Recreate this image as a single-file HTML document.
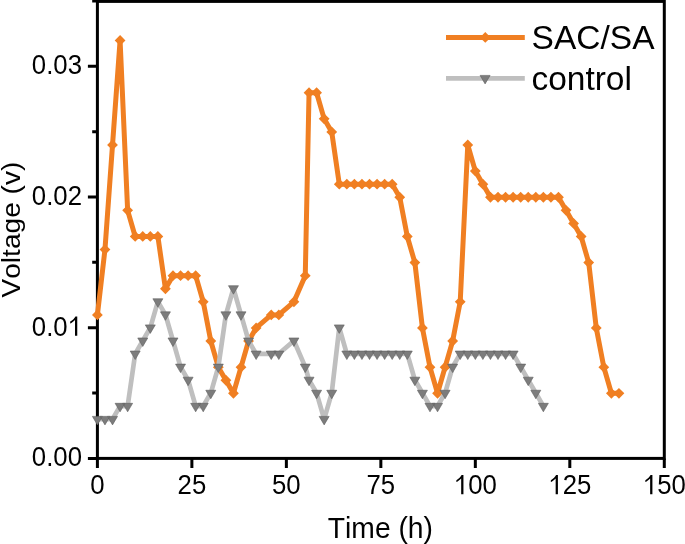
<!DOCTYPE html><html><head><meta charset="utf-8"><style>html,body{margin:0;padding:0;background:#fff;}svg{display:block;}text{font-family:"Liberation Sans",sans-serif;fill:#000;font-kerning:none;}</style></head><body>
<svg width="685" height="544" viewBox="0 0 685 544">
<rect width="685" height="544" fill="#fff"/>
<rect x="97.4" y="1.4" width="566.9" height="457" fill="none" stroke="#000" stroke-width="3"/>
<path d="M97.4 458.4V467.9M191.88 458.4V467.9M286.37 458.4V467.9M380.85 458.4V467.9M475.33 458.4V467.9M569.81 458.4V467.9M664.29 458.4V467.9M97.4 458.4H87.9M97.4 393.05H92.2M97.4 327.7H87.9M97.4 262.35H92.2M97.4 197H87.9M97.4 131.65H92.2M97.4 66.3H87.9M97.4 0.95H92.2" stroke="#000" stroke-width="3" fill="none"/>
<polyline points="97.4,314.88 104.96,249.53 112.52,144.97 120.08,40.41 127.63,210.32 135.19,236.46 142.75,236.46 150.31,236.46 157.87,236.46 165.43,288.74 172.99,275.67 180.54,275.67 188.1,275.67 195.66,275.67 203.22,301.81 210.78,341.02 218.34,367.16 225.9,380.23 233.45,393.3 241.01,367.16 248.57,341.02 256.13,327.95 271.25,314.88 278.81,314.88 293.92,301.81 305.26,275.67 309.04,92.69 316.6,92.69 324.16,118.83 331.72,131.9 339.28,184.18 346.83,184.18 354.39,184.18 361.95,184.18 369.51,184.18 377.07,184.18 384.63,184.18 392.19,184.18 399.74,197.25 407.3,236.46 414.86,262.6 422.42,327.95 429.98,367.16 437.54,393.3 445.1,367.16 452.65,341.02 460.21,301.81 467.77,144.97 475.33,171.11 482.89,184.18 490.45,197.25 498.01,197.25 505.56,197.25 513.12,197.25 520.68,197.25 528.24,197.25 535.8,197.25 543.36,197.25 550.92,197.25 558.47,197.25 566.03,210.32 573.59,223.39 581.15,236.46 588.71,262.6 596.27,327.95 603.83,367.16 611.38,393.3 618.94,393.3" fill="none" stroke="#F07F22" stroke-width="5.0" stroke-linejoin="round" stroke-linecap="round"/>
<path d="M97.4 309.48L102.8 314.88L97.4 320.28L92 314.88ZM104.96 244.13L110.36 249.53L104.96 254.93L99.56 249.53ZM112.52 139.57L117.92 144.97L112.52 150.37L107.12 144.97ZM120.08 35.01L125.48 40.41L120.08 45.81L114.68 40.41ZM127.63 204.92L133.03 210.32L127.63 215.72L122.23 210.32ZM135.19 231.06L140.59 236.46L135.19 241.86L129.79 236.46ZM142.75 231.06L148.15 236.46L142.75 241.86L137.35 236.46ZM150.31 231.06L155.71 236.46L150.31 241.86L144.91 236.46ZM157.87 231.06L163.27 236.46L157.87 241.86L152.47 236.46ZM165.43 283.34L170.83 288.74L165.43 294.14L160.03 288.74ZM172.99 270.27L178.39 275.67L172.99 281.07L167.59 275.67ZM180.54 270.27L185.94 275.67L180.54 281.07L175.14 275.67ZM188.1 270.27L193.5 275.67L188.1 281.07L182.7 275.67ZM195.66 270.27L201.06 275.67L195.66 281.07L190.26 275.67ZM203.22 296.41L208.62 301.81L203.22 307.21L197.82 301.81ZM210.78 335.62L216.18 341.02L210.78 346.42L205.38 341.02ZM218.34 361.76L223.74 367.16L218.34 372.56L212.94 367.16ZM225.9 374.83L231.3 380.23L225.9 385.63L220.5 380.23ZM233.45 387.9L238.85 393.3L233.45 398.7L228.05 393.3ZM241.01 361.76L246.41 367.16L241.01 372.56L235.61 367.16ZM248.57 335.62L253.97 341.02L248.57 346.42L243.17 341.02ZM256.13 322.55L261.53 327.95L256.13 333.35L250.73 327.95ZM271.25 309.48L276.65 314.88L271.25 320.28L265.85 314.88ZM278.81 309.48L284.21 314.88L278.81 320.28L273.41 314.88ZM293.92 296.41L299.32 301.81L293.92 307.21L288.52 301.81ZM305.26 270.27L310.66 275.67L305.26 281.07L299.86 275.67ZM309.04 87.29L314.44 92.69L309.04 98.09L303.64 92.69ZM316.6 87.29L322 92.69L316.6 98.09L311.2 92.69ZM324.16 113.43L329.56 118.83L324.16 124.23L318.76 118.83ZM331.72 126.5L337.12 131.9L331.72 137.3L326.32 131.9ZM339.28 178.78L344.68 184.18L339.28 189.58L333.88 184.18ZM346.83 178.78L352.23 184.18L346.83 189.58L341.43 184.18ZM354.39 178.78L359.79 184.18L354.39 189.58L348.99 184.18ZM361.95 178.78L367.35 184.18L361.95 189.58L356.55 184.18ZM369.51 178.78L374.91 184.18L369.51 189.58L364.11 184.18ZM377.07 178.78L382.47 184.18L377.07 189.58L371.67 184.18ZM384.63 178.78L390.03 184.18L384.63 189.58L379.23 184.18ZM392.19 178.78L397.59 184.18L392.19 189.58L386.79 184.18ZM399.74 191.85L405.14 197.25L399.74 202.65L394.34 197.25ZM407.3 231.06L412.7 236.46L407.3 241.86L401.9 236.46ZM414.86 257.2L420.26 262.6L414.86 268L409.46 262.6ZM422.42 322.55L427.82 327.95L422.42 333.35L417.02 327.95ZM429.98 361.76L435.38 367.16L429.98 372.56L424.58 367.16ZM437.54 387.9L442.94 393.3L437.54 398.7L432.14 393.3ZM445.1 361.76L450.5 367.16L445.1 372.56L439.7 367.16ZM452.65 335.62L458.05 341.02L452.65 346.42L447.25 341.02ZM460.21 296.41L465.61 301.81L460.21 307.21L454.81 301.81ZM467.77 139.57L473.17 144.97L467.77 150.37L462.37 144.97ZM475.33 165.71L480.73 171.11L475.33 176.51L469.93 171.11ZM482.89 178.78L488.29 184.18L482.89 189.58L477.49 184.18ZM490.45 191.85L495.85 197.25L490.45 202.65L485.05 197.25ZM498.01 191.85L503.41 197.25L498.01 202.65L492.61 197.25ZM505.56 191.85L510.96 197.25L505.56 202.65L500.16 197.25ZM513.12 191.85L518.52 197.25L513.12 202.65L507.72 197.25ZM520.68 191.85L526.08 197.25L520.68 202.65L515.28 197.25ZM528.24 191.85L533.64 197.25L528.24 202.65L522.84 197.25ZM535.8 191.85L541.2 197.25L535.8 202.65L530.4 197.25ZM543.36 191.85L548.76 197.25L543.36 202.65L537.96 197.25ZM550.92 191.85L556.32 197.25L550.92 202.65L545.52 197.25ZM558.47 191.85L563.87 197.25L558.47 202.65L553.07 197.25ZM566.03 204.92L571.43 210.32L566.03 215.72L560.63 210.32ZM573.59 217.99L578.99 223.39L573.59 228.79L568.19 223.39ZM581.15 231.06L586.55 236.46L581.15 241.86L575.75 236.46ZM588.71 257.2L594.11 262.6L588.71 268L583.31 262.6ZM596.27 322.55L601.67 327.95L596.27 333.35L590.87 327.95ZM603.83 361.76L609.23 367.16L603.83 372.56L598.43 367.16ZM611.38 387.9L616.78 393.3L611.38 398.7L605.98 393.3ZM618.94 387.9L624.34 393.3L618.94 398.7L613.54 393.3Z" fill="#F07F22"/>
<polyline points="97.4,419.19 104.96,419.19 112.52,419.19 120.08,406.12 127.63,406.12 135.19,353.84 142.75,340.77 150.31,327.7 157.87,301.56 165.43,314.63 172.99,340.77 180.54,366.91 188.1,379.98 195.66,406.12 203.22,406.12 210.78,393.05 218.34,366.91 225.9,314.63 233.45,288.49 241.01,314.63 248.57,340.77 256.13,353.84 271.25,353.84 278.81,353.84 293.92,340.77 305.26,366.91 309.04,379.98 316.6,393.05 324.16,419.19 331.72,393.05 339.28,327.7 346.83,353.84 354.39,353.84 361.95,353.84 369.51,353.84 377.07,353.84 384.63,353.84 392.19,353.84 399.74,353.84 407.3,353.84 414.86,379.98 422.42,393.05 429.98,406.12 437.54,406.12 445.1,393.05 452.65,366.91 460.21,353.84 467.77,353.84 475.33,353.84 482.89,353.84 490.45,353.84 498.01,353.84 505.56,353.84 513.12,353.84 520.68,366.91 528.24,379.98 535.8,393.05 543.36,406.12" fill="none" stroke="#BFBFBF" stroke-width="4.7" stroke-linejoin="round" stroke-linecap="round"/>
<path d="M92.4 416.39L102.4 416.39L97.4 424.89ZM99.96 416.39L109.96 416.39L104.96 424.89ZM107.52 416.39L117.52 416.39L112.52 424.89ZM115.08 403.32L125.08 403.32L120.08 411.82ZM122.63 403.32L132.63 403.32L127.63 411.82ZM130.19 351.04L140.19 351.04L135.19 359.54ZM137.75 337.97L147.75 337.97L142.75 346.47ZM145.31 324.9L155.31 324.9L150.31 333.4ZM152.87 298.76L162.87 298.76L157.87 307.26ZM160.43 311.83L170.43 311.83L165.43 320.33ZM167.99 337.97L177.99 337.97L172.99 346.47ZM175.54 364.11L185.54 364.11L180.54 372.61ZM183.1 377.18L193.1 377.18L188.1 385.68ZM190.66 403.32L200.66 403.32L195.66 411.82ZM198.22 403.32L208.22 403.32L203.22 411.82ZM205.78 390.25L215.78 390.25L210.78 398.75ZM213.34 364.11L223.34 364.11L218.34 372.61ZM220.9 311.83L230.9 311.83L225.9 320.33ZM228.45 285.69L238.45 285.69L233.45 294.19ZM236.01 311.83L246.01 311.83L241.01 320.33ZM243.57 337.97L253.57 337.97L248.57 346.47ZM251.13 351.04L261.13 351.04L256.13 359.54ZM266.25 351.04L276.25 351.04L271.25 359.54ZM273.81 351.04L283.81 351.04L278.81 359.54ZM288.92 337.97L298.92 337.97L293.92 346.47ZM300.26 364.11L310.26 364.11L305.26 372.61ZM304.04 377.18L314.04 377.18L309.04 385.68ZM311.6 390.25L321.6 390.25L316.6 398.75ZM319.16 416.39L329.16 416.39L324.16 424.89ZM326.72 390.25L336.72 390.25L331.72 398.75ZM334.28 324.9L344.28 324.9L339.28 333.4ZM341.83 351.04L351.83 351.04L346.83 359.54ZM349.39 351.04L359.39 351.04L354.39 359.54ZM356.95 351.04L366.95 351.04L361.95 359.54ZM364.51 351.04L374.51 351.04L369.51 359.54ZM372.07 351.04L382.07 351.04L377.07 359.54ZM379.63 351.04L389.63 351.04L384.63 359.54ZM387.19 351.04L397.19 351.04L392.19 359.54ZM394.74 351.04L404.74 351.04L399.74 359.54ZM402.3 351.04L412.3 351.04L407.3 359.54ZM409.86 377.18L419.86 377.18L414.86 385.68ZM417.42 390.25L427.42 390.25L422.42 398.75ZM424.98 403.32L434.98 403.32L429.98 411.82ZM432.54 403.32L442.54 403.32L437.54 411.82ZM440.1 390.25L450.1 390.25L445.1 398.75ZM447.65 364.11L457.65 364.11L452.65 372.61ZM455.21 351.04L465.21 351.04L460.21 359.54ZM462.77 351.04L472.77 351.04L467.77 359.54ZM470.33 351.04L480.33 351.04L475.33 359.54ZM477.89 351.04L487.89 351.04L482.89 359.54ZM485.45 351.04L495.45 351.04L490.45 359.54ZM493.01 351.04L503.01 351.04L498.01 359.54ZM500.56 351.04L510.56 351.04L505.56 359.54ZM508.12 351.04L518.12 351.04L513.12 359.54ZM515.68 364.11L525.68 364.11L520.68 372.61ZM523.24 377.18L533.24 377.18L528.24 385.68ZM530.8 390.25L540.8 390.25L535.8 398.75ZM538.36 403.32L548.36 403.32L543.36 411.82Z" fill="#7C7C7C" stroke="#606060" stroke-width="0.6"/>
<g opacity="0.999">
<g transform="translate(90.24 494.3) scale(0.92 1)"><text x="0" y="0" font-size="28">0</text></g>
<g transform="translate(177.56 494.3) scale(0.92 1)"><text x="0" y="0" font-size="28">25</text></g>
<g transform="translate(272.04 494.3) scale(0.92 1)"><text x="0" y="0" font-size="28">50</text></g>
<g transform="translate(366.52 494.3) scale(0.92 1)"><text x="0" y="0" font-size="28">75</text></g>
<g transform="translate(453.84 494.3) scale(0.92 1)"><path transform="translate(0 0) scale(28)" d="M0.3726 0L0.2847 0L0.2847 -0.5600C0.2540 -0.5300 0.2130 -0.5000 0.1700 -0.4750C0.1400 -0.4570 0.1200 -0.4460 0.0980 -0.4370L0.0980 -0.5050C0.1420 -0.5260 0.1860 -0.5560 0.2230 -0.5910C0.2600 -0.6250 0.2850 -0.6600 0.3010 -0.6850L0.3726 -0.6850Z" fill="#000"/><text x="15.57" y="0" font-size="28">00</text></g>
<g transform="translate(548.32 494.3) scale(0.92 1)"><path transform="translate(0 0) scale(28)" d="M0.3726 0L0.2847 0L0.2847 -0.5600C0.2540 -0.5300 0.2130 -0.5000 0.1700 -0.4750C0.1400 -0.4570 0.1200 -0.4460 0.0980 -0.4370L0.0980 -0.5050C0.1420 -0.5260 0.1860 -0.5560 0.2230 -0.5910C0.2600 -0.6250 0.2850 -0.6600 0.3010 -0.6850L0.3726 -0.6850Z" fill="#000"/><text x="15.57" y="0" font-size="28">25</text></g>
<g transform="translate(642.81 494.3) scale(0.92 1)"><path transform="translate(0 0) scale(28)" d="M0.3726 0L0.2847 0L0.2847 -0.5600C0.2540 -0.5300 0.2130 -0.5000 0.1700 -0.4750C0.1400 -0.4570 0.1200 -0.4460 0.0980 -0.4370L0.0980 -0.5050C0.1420 -0.5260 0.1860 -0.5560 0.2230 -0.5910C0.2600 -0.6250 0.2850 -0.6600 0.3010 -0.6850L0.3726 -0.6850Z" fill="#000"/><text x="15.57" y="0" font-size="28">50</text></g>
<g transform="translate(31.86 466.4) scale(0.92 1)"><text x="0" y="0" font-size="28">0.00</text></g>
<g transform="translate(31.86 335.7) scale(0.92 1)"><text x="0" y="0" font-size="28">0.0</text><path transform="translate(38.92 0) scale(28)" d="M0.3726 0L0.2847 0L0.2847 -0.5600C0.2540 -0.5300 0.2130 -0.5000 0.1700 -0.4750C0.1400 -0.4570 0.1200 -0.4460 0.0980 -0.4370L0.0980 -0.5050C0.1420 -0.5260 0.1860 -0.5560 0.2230 -0.5910C0.2600 -0.6250 0.2850 -0.6600 0.3010 -0.6850L0.3726 -0.6850Z" fill="#000"/></g>
<g transform="translate(31.86 205) scale(0.92 1)"><text x="0" y="0" font-size="28">0.02</text></g>
<g transform="translate(31.86 74.3) scale(0.92 1)"><text x="0" y="0" font-size="28">0.03</text></g>
<text transform="translate(380.4 537.9) scale(1.01 1.074)" font-size="28" text-anchor="middle">Time (h)</text>
<text transform="translate(20 229.6) rotate(-90) scale(1.004 0.934)" font-size="28" text-anchor="middle">Voltage (v)</text>
<line x1="446" y1="37.4" x2="524.8" y2="37.4" stroke="#F07F22" stroke-width="5.0"/>
<path d="M485.3 32L490.7 37.4L485.3 42.8L479.9 37.4Z" fill="#F07F22"/>
<line x1="446" y1="78.4" x2="524.8" y2="78.4" stroke="#BFBFBF" stroke-width="4.7"/>
<path d="M480.1 75.4L490.1 75.4L485.1 83.9Z" fill="#7C7C7C" stroke="#606060" stroke-width="0.6"/>
<text x="531.6" y="48.7" font-size="33.5">SAC/SA</text>
<text x="531.4" y="89.9" font-size="33.5">control</text>
</g>
</svg></body></html>
